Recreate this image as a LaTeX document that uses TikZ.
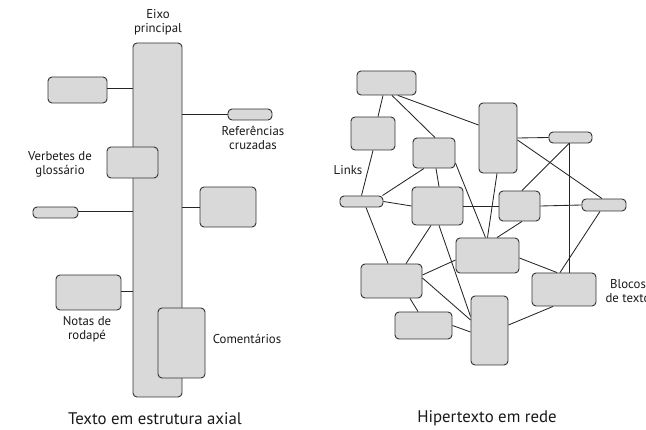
\documentclass[tikz,border=0pt]{standalone}
\usepackage{fontspec}
\setmainfont{PT Sans}
\begin{document}
\begin{tikzpicture}[x=1pt,y=-1pt,
  blk/.style={draw=black!80, fill=black!15, rounded corners=4pt, line width=0.9pt,
              inner sep=0pt, minimum width=#1},
  lnk/.style={draw=black!85, line width=0.85pt},
  lbl/.style={text=black!90, font=\fontsize{12.8}{14}\selectfont, align=center, inner sep=0pt},
  ttl/.style={text=black!90, font=\fontsize{16.8}{18}\selectfont, inner sep=0pt, anchor=base}]
\useasboundingbox (0,0) rectangle (646,430);

% ---- axial text: main axis with attached blocks
\node[blk=49pt, minimum height=354pt] (axis) at (157.5,220) {};
\node[blk=59pt, minimum height=26pt] (a1)  at (77.5,90) {};
\node[blk=44pt, minimum height=11pt] (ref) at (250,114.5) {};
\node[blk=56pt, minimum height=40pt] (r2)  at (228,207) {};
\node[blk=45pt, minimum height=11pt] (sm)  at (55.5,212.5) {};
\node[blk=65pt, minimum height=35pt] (nt)  at (88.5,292.5) {};
\node[blk=51pt, minimum height=31pt] (vb)  at (132.5,162.5) {};
\node[blk=47pt, minimum height=70pt] (cm)  at (181.5,343) {};

\draw[lnk] ([yshift=2pt]a1.east) -- ([yshift=2pt]a1.east -| axis.west);
\draw[lnk] (ref.west) -- (ref.west -| axis.east);
\draw[lnk] (r2.west) -- (r2.west -| axis.east);
\draw[lnk] ([yshift=1.5pt]sm.east) -- ([yshift=1.5pt]sm.east -| axis.west);
\draw[lnk] ([yshift=1.5pt]nt.east) -- ([yshift=1.5pt]nt.east -| axis.west);

\node[lbl] (teixo) at (158,22) {Eixo\\principal};
\node[lbl] (tref) at (253,138) {Referências\\cruzadas};
\node[lbl] (tverb) at (60,164) {Verbetes de\\glossário};
\node[lbl] (tnot) at (87,329) {Notas de\\rodapé};
\node[lbl] (tcom) at (247,339) {Comentários};
\node[ttl] (taxial) at (155,425) {Texto em estrutura axial};

% ---- hypertext network
\node[blk=59pt, minimum height=24pt] (b1)  at (386.5,83) {};
\node[blk=44pt, minimum height=33pt] (b2)  at (373,133.5) {};
\node[blk=42pt, minimum height=30pt] (b3)  at (434,153) {};
\node[blk=38pt, minimum height=70pt] (b4)  at (498,138) {};
\node[blk=43pt, minimum height=11pt] (b5)  at (570.5,137.5) {};
\node[blk=43pt, minimum height=11pt] (lk)  at (361.5,201.5) {};
\node[blk=51pt, minimum height=38pt] (b6)  at (437.5,206) {};
\node[blk=41pt, minimum height=30pt] (b7)  at (519.5,206) {};
\node[blk=44pt, minimum height=12pt] (b8)  at (604,205) {};
\node[blk=63pt, minimum height=35pt] (b9)  at (487.5,255.5) {};
\node[blk=61pt, minimum height=34pt] (b10) at (391.5,281) {};
\node[blk=64pt, minimum height=33pt] (b11) at (564,289.5) {};
\node[blk=57pt, minimum height=27pt] (b12) at (423.5,325.5) {};
\node[blk=37pt, minimum height=69pt] (b13) at (489.5,330.5) {};

\draw[lnk] ([xshift=-3.5pt]b1.south) -- ([xshift=5pt]b2.north);
\draw[lnk] ([xshift=5.5pt]b1.south) -- ([xshift=1pt]b3.north);
\draw[lnk] ([xshift=11.5pt]b1.south) -- ([yshift=13pt]b4.west);
\draw[lnk] (b2.south) -- (lk.north);
\draw[lnk] ([xshift=4.5pt]lk.south) -- ([xshift=-3.5pt]b10.north);
\draw[lnk] ([xshift=-10pt]b3.south) -- ([xshift=-1pt]lk.north east);
\draw[lnk] (lk.east) -- (b6.west);
\draw[lnk] ([xshift=2pt]b3.south) -- ([xshift=1.5pt]b6.north);
\draw[lnk] ([yshift=-10pt]b3.east) -- ([xshift=-2pt]b9.north);
\draw[lnk] ([xshift=-1pt]b4.south) -- (b9.north);
\draw[lnk] (b4.east) -- (b5.west);
\draw[lnk] ([yshift=-2pt]b4.east) -- ([xshift=-2pt]b8.north);
\draw[lnk] ([xshift=-1.5pt]b5.south) -- ([xshift=2.5pt]b7.north);
\draw[lnk] ([xshift=-1.5pt]b5.south) -- ([xshift=5pt]b11.north);
\draw[lnk] ([xshift=-4pt]b8.south) -- ([xshift=-4pt]b11.north);
\draw[lnk] (b6.east) -- (b7.west);
\draw[lnk] (b7.east) -- (b8.west);
\draw[lnk] ([xshift=2.5pt]b7.south) -- ([xshift=9.5pt]b9.north);
\draw[lnk] ([yshift=-2.5pt]b9.east) -- ([xshift=-7pt]b11.north);
\draw[lnk] ([xshift=-6.5pt]b6.south) -- ([xshift=14.5pt]b10.north);
\draw[lnk] ([xshift=1.5pt]b6.south) -- ([yshift=14pt]b13.west);
\draw[lnk] ([yshift=6pt]b10.east) -- ([yshift=-4.5pt]b9.west);
\draw[lnk] ([yshift=3pt]b10.east) -- ([yshift=10.5pt]b13.west);
\draw[lnk] ([xshift=18.5pt]b10.south) -- ([xshift=-5.5pt]b12.north);
\draw[lnk] (b12.east) -- ([yshift=-1.5pt]b13.west);
\draw[lnk] ([yshift=5.5pt]b13.east) -- ([xshift=-11pt]b11.south);

\node[lbl] (tlinks) at (348,170) {Links};
\node[lbl] (tblocos) at (628,291) {Blocos\\de texto};
\node[ttl] (thiper) at (487,423) {Hipertexto em rede};
\end{tikzpicture}
\end{document}
